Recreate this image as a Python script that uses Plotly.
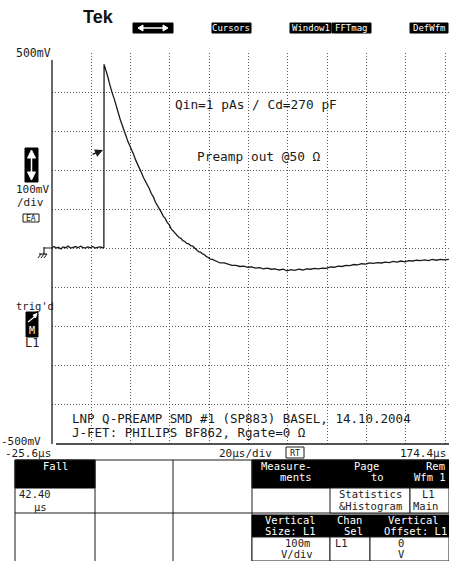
import plotly.graph_objects as go

W, H = 449, 561


def px(x):
    return x / W


def py(y):
    return 1 - y / H


t_pre = [-25.6, -24.5, -23.5, -22.5, -21.0, -20.0, -18.5, -17.5, -16.0, -15.0, -13.5,
         -12.5, -11.0, -10.0, -8.5, -7.5, -6.0, -5.0, -3.5, -2.5, -1.0, 0.0, 0.8]
v_pre = [2, 5, 1, 3, -1, 4, 2, 6, 1, 3, 5, 2, 6, 3, 1, 4, 2, 5, 1, 3, 4, 2, 3]

t_decay = [0.9, 1.5, 2, 2.5, 3, 3.5, 4, 4.9, 6, 7, 8, 9, 10, 11, 12, 13, 14, 15, 16, 17,
           18, 19.2, 20, 21, 22, 23, 24, 25, 26, 27, 28, 29, 30, 31, 32, 33, 34, 35, 36,
           37, 38, 39, 40, 41, 42, 43, 44, 45, 46, 47.2]
v_decay = [471, 462, 454, 443, 436, 425, 418, 400, 384, 365, 350, 332, 317, 300, 289, 274,
           264, 250, 240, 226, 216, 200, 193, 181, 172, 160, 152, 140, 132, 119, 111, 100,
           93, 83, 77, 67, 61, 51, 45, 38, 35, 28, 26, 20, 18, 13, 12, 7, 6, 0]

t_under = [48, 49, 50, 51, 52, 53, 54, 55, 56, 58, 60, 62, 64, 66, 68, 70, 72, 74, 76, 78,
           80, 82, 84, 86, 88, 90, 92, 94, 96, 98, 100, 102, 104, 106, 108, 110, 112, 114,
           116, 118, 120, 122, 124, 126, 128, 130, 132, 134, 136, 138, 140, 142, 144, 146,
           148, 150, 152, 154, 156, 158, 160, 162, 164, 166, 168, 170, 172, 174, 176.4]
v_under = [-3, -8, -9, -14, -16, -21, -23, -27, -28, -32, -37, -37, -41, -43, -43, -46, -45,
           -48, -47, -50, -49, -52, -50, -53, -52, -55, -53, -57, -54, -56, -53, -55, -52,
           -53, -51, -52, -50, -51, -47, -48, -45, -46, -43, -44, -41, -42, -39, -40, -37,
           -38, -36, -37, -35, -36, -33, -35, -32, -34, -31, -32, -30, -31, -29, -31, -28,
           -30, -28, -29, -28]

t_us = t_pre + t_decay + t_under
v_mV = v_pre + v_decay + v_under

# ---------------- figure ----------------
MONO = "DejaVu Sans Mono"
INK = "#1a1a1a"

fig = go.Figure()
fig.add_trace(go.Scatter(x=t_us, y=v_mV, mode="lines",
                         line=dict(color=INK, width=1.3), hoverinfo="skip"))

X_LEFT, X_RIGHT = 52, 449
PX_PER_DIV = 39.3
x_min = -25.6
x_max = x_min + (X_RIGHT - X_LEFT) * 20 / PX_PER_DIV

grid = dict(showgrid=True, gridcolor="#5a5a5a", gridwidth=1, griddash="1px,2px",
            zeroline=False, showticklabels=False, ticks="", showline=False,
            fixedrange=True)

fig.update_layout(
    width=W, height=H, margin=dict(l=0, r=0, t=0, b=0), autosize=False,
    paper_bgcolor="white", plot_bgcolor="white", showlegend=False,
    xaxis=dict(domain=[px(X_LEFT), 1], range=[x_min, x_max], tick0=-25.6, dtick=20, **grid),
    yaxis=dict(domain=[py(444), py(53)], range=[-500, 500], tick0=0, dtick=100, **grid),
)

shapes = []
ann = []


def line(x0, y0, x1, y1, color=INK, width=1):
    shapes.append(dict(type="line", xref="paper", yref="paper",
                       x0=px(x0), y0=py(y0), x1=px(x1), y1=py(y1),
                       line=dict(color=color, width=width)))


def rect(x0, y0, x1, y1, fill="black", lc="black", lw=1):
    shapes.append(dict(type="rect", xref="paper", yref="paper",
                       x0=px(x0), y0=py(y0), x1=px(x1), y1=py(y1),
                       fillcolor=fill, line=dict(color=lc, width=lw)))


def path(points, fill="white", lc="white", lw=1, close=True):
    d = "M " + " L ".join(f"{px(a):.5f},{py(b):.5f}" for a, b in points)
    if close:
        d += " Z"
    shapes.append(dict(type="path", xref="paper", yref="paper", path=d,
                       fillcolor=fill if close else None, line=dict(color=lc, width=lw)))


def txt(s, x, y, size=12, color=INK, xa="left", family=MONO):
    ann.append(dict(text=s, x=px(x), y=py(y), xref="paper", yref="paper",
                    xanchor=xa, yanchor="middle", showarrow=False, borderpad=0,
                    font=dict(family=family, size=size, color=color)))


# screen frame lines
line(52, 60, 52, 444, width=1.3)
line(56, 444, 449, 444, width=1.3)

# scale labels
txt("500mV", 15, 53, 11.5)
txt("-500mV", 0, 441.5, 11)
txt("100mV", 15, 190, 11)
txt("/div", 16, 203, 11)
rect(23, 214, 39, 222, fill="white", lc=INK, lw=1)
txt("EA", 31, 218, 8, xa="center")

# vertical size arrow box
rect(25, 148, 38, 182)
line(31.5, 154, 31.5, 176, color="white", width=1.5)
path([(27.5, 158), (31.5, 150), (35.5, 158)])
path([(27.5, 172), (31.5, 180), (35.5, 172)])

# ground marker
line(44, 248, 52, 248, width=1)
line(44, 247, 44, 254, width=1.2)
line(39, 254, 47, 254, width=1.2)
line(38, 258, 41, 254, width=1)
line(41, 258, 44, 254, width=1)
line(44, 258, 47, 254, width=1)

# trigger indicator
txt("trig'd", 15, 306, 10.5)
rect(26, 312, 38, 337)
line(28, 322, 35.5, 316, color="white", width=1.3)
path([(33, 315), (37, 313.5), (35.5, 318)])
txt("M", 32, 330, 10, color="white", xa="center")
txt("L1", 32, 343, 12, xa="center")

# trigger level arrow on the screen
ann.append(dict(text="", x=px(103), y=py(150), xref="paper", yref="paper",
                ax=-12, ay=5, showarrow=True, arrowhead=2, arrowsize=1,
                arrowwidth=1.6, arrowcolor=INK))

# screen texts
txt("Qin=1 pAs / Cd=270 pF", 174, 105, 12.8)
txt("Preamp out @50 Ω", 196, 156, 12.8)
txt("LNP Q-PREAMP SMD #1 (SP883) BASEL, 14.10.2004", 71, 418.5, 12.5)
txt("J-FET: PHILIPS BF862, Rgate=0 Ω", 71, 432, 12.5)

# top menu
txt("<b>Tek</b>", 98, 17, 18, family="Liberation Sans", xa="center", color="#111")
rect(133, 23, 173, 33)
line(140, 28, 166, 28, color="white", width=1.5)
path([(143, 25), (138, 28), (143, 31)])
path([(163, 25), (168, 28), (163, 31)])
for label, x0, x1 in [("Cursors", 212, 251), ("Window1", 290, 331),
                      ("FFTmag", 332, 371), ("DefWfm", 410, 448)]:
    rect(x0, 23, x1, 33)
    txt(label, (x0 + x1) / 2, 28, 9, color="white", xa="center")

# time base row
txt("-25.6µs", 4, 453, 11)
txt("20µs/div", 218, 453, 11)
rect(286, 447, 304, 458, fill="white", lc=INK, lw=1)
txt("RT", 295, 452.5, 8.5, xa="center")
txt("174.4µs", 447, 453, 11, xa="right")

# measurement table
T0, T1, T2, T3 = 460, 488, 513, 561
rect(15, T0, 95, T1)
rect(252, T0, 449, T1)
line(15, T0, 449, T0)
line(15, T0, 15, T3)
for xv in (95, 173, 252):
    line(xv, T0, xv, T3)
line(15, T2, 449, T2)
rect(330, T1, 410, T2, fill="white", lc=INK)
rect(410, T1, 449, T2, fill="white", lc=INK)
rect(252, 515, 449, 537)
rect(252, 537, 330, T3, fill="white", lc=INK)
rect(330, 537, 370, T3, fill="white", lc=INK)
rect(370, 537, 449, T3, fill="white", lc=INK)

SZ = 10.5
txt("Fall", 55, 466, SZ, color="white", xa="center")
txt("42.40", 18, 494, SZ)
txt("µs", 40, 507, SZ, xa="center")
txt("Measure-", 313, 466, SZ, color="white", xa="right")
txt("ments", 313, 477, SZ, color="white", xa="right")
txt("Page", 366, 466, SZ, color="white", xa="center")
txt("to", 377, 477, SZ, color="white", xa="center")
txt("Rem", 446, 466, SZ, color="white", xa="right")
txt("Wfm 1", 447, 477, SZ, color="white", xa="right")
txt("Statistics", 370, 494, SZ, xa="center")
txt("&Histogram", 370, 506, SZ, xa="center")
txt("L1", 421, 494, SZ)
txt("Main", 412, 506, SZ)
txt("Vertical", 290, 520, SZ, color="white", xa="center")
txt("Size: L1", 290, 531, SZ, color="white", xa="center")
txt("Chan", 349, 520, SZ, color="white", xa="center")
txt("Sel", 353, 531, SZ, color="white", xa="center")
txt("Vertical", 413, 520, SZ, color="white", xa="center")
txt("Offset: L1", 448, 531, SZ, color="white", xa="right")
txt("100m", 297, 543, SZ, xa="center")
txt("V/div", 297, 554, SZ, xa="center")
txt("L1", 334, 543, SZ)
txt("0", 401, 543, SZ, xa="center")
txt("V", 401, 554, SZ, xa="center")

fig.update_layout(shapes=shapes, annotations=ann)
fig.write_html("out.html", config={"displayModeBar": False},
               post_script="document.body.style.margin='0';document.body.style.overflow='hidden';")
